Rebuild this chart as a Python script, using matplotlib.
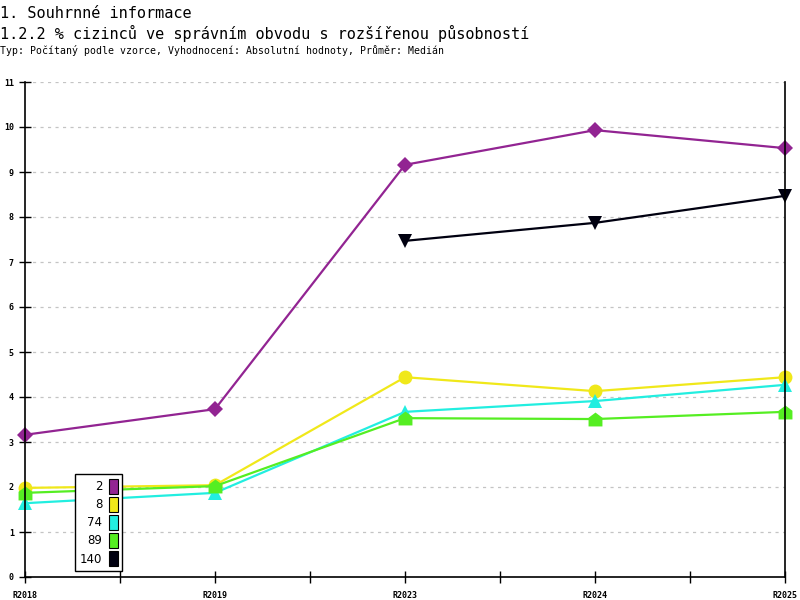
import numpy as np
import matplotlib.pyplot as plt
from matplotlib.patches import Rectangle
from matplotlib.path import Path

# categories and series values
years = ['R2018', 'R2019', 'R2023', 'R2024', 'R2025']
labels = ['2', '8', '74', '89', '140']
s2 = [3.16, 3.73, 9.16, 9.93, 9.53]
s8 = [1.98, 2.04, 4.44, 4.13, 4.44]
s74 = [1.64, 1.87, 3.67, 3.91, 4.27]
s89 = [1.87, 2.02, 3.53, 3.51, 3.67]
s140 = [np.nan, np.nan, 7.47, 7.87, 8.47]

colors = ['#922492', '#f0e81a', '#22eee0', '#55ee22', '#000010']
house = Path([(-1, -1), (1, -1), (1, 0.25), (0, 1), (-1, 0.25), (-1, -1)])
markers = ['D', 'o', '^', house, 'v']
msizes = [8, 10, 10, 10, 10]

mono = 'DejaVu Sans Mono'

fig = plt.figure(figsize=(8, 6), dpi=100)
ax = fig.add_axes([25 / 800, 23 / 600, 760 / 800, 495 / 600])

x = np.arange(len(years))
for vals, c, m, ms in zip([s2, s8, s74, s89, s140], colors, markers, msizes):
    ax.plot(x, vals, color=c, lw=1.6, marker=m, markersize=ms,
            markeredgewidth=0, clip_on=False)

ax.set_xlim(0, len(years) - 1)
ax.set_ylim(0, 11)
ax.set_yticks(range(0, 12))
ax.set_xticks(x)
ax.set_xticks(x[:-1] + 0.5, minor=True)
ax.set_xticklabels(years)
ax.tick_params(axis='both', which='both', direction='inout', length=8,
               width=1, labelsize=6)
ax.tick_params(axis='x', pad=6)
ax.tick_params(axis='y', pad=4)
for lab in ax.get_xticklabels() + ax.get_yticklabels():
    lab.set_family(mono)
    lab.set_weight('bold')

ax.grid(axis='y', color='#c4c4c4', linestyle=(0, (2.5, 3.5)), lw=0.9)
ax.set_axisbelow(True)
ax.spines['top'].set_visible(False)
for sp in ['left', 'right', 'bottom']:
    ax.spines[sp].set_linewidth(1.2)
    ax.spines[sp].set_color('black')

handles = [Rectangle((0, 0), 1, 1, facecolor=c, edgecolor='black', lw=0.8)
           for c in colors]
leg = ax.legend(handles, labels, loc='lower left',
                bbox_to_anchor=(0.066, 0.012), markerfirst=False,
                fancybox=False, framealpha=1, edgecolor='black',
                fontsize=8.5, handlelength=0.7, handleheight=1.6,
                handletextpad=0.6, labelspacing=0.25, borderpad=0.4,
                borderaxespad=0)
leg.get_frame().set_linewidth(1)
for t in leg.get_texts():
    t.set_ha('right')

fig.text(0.0, 1 - 13 / 600, '1. Souhrnné informace', family=mono,
         fontsize=11, va='center', ha='left')
fig.text(0.0, 1 - 33 / 600,
         '1.2.2 % cizinců ve správním obvodu s rozšířenou působností',
         family=mono, fontsize=11, va='center', ha='left')
fig.text(0.0, 1 - 51 / 600,
         'Typ: Počítaný podle vzorce, Vyhodnocení: Absolutní hodnoty, Průměr: Medián',
         family=mono, fontsize=7.1, va='center', ha='left')

fig.savefig('out.png', dpi=100)
